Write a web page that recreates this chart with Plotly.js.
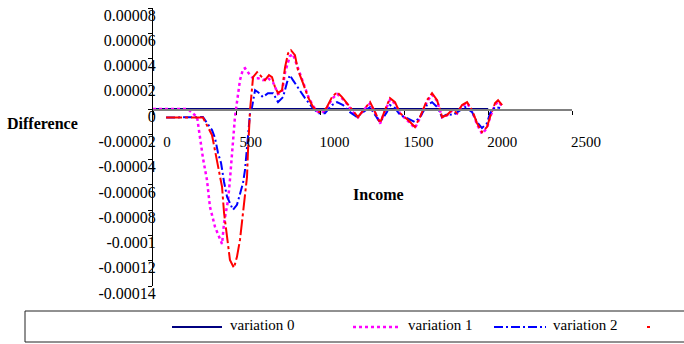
<!DOCTYPE html>
<html>
<head>
<meta charset="utf-8">
<script src="https://cdn.plot.ly/plotly-3.0.1.min.js"></script>
<style>html,body{margin:0;padding:0;background:#fff;}#chart{width:684px;height:344px;}</style>
</head>
<body>
<div id="chart"></div>
<script>
// Values in millionths (1e-6); axis ticks are labelled with the original decimals.
const var0X = [0, 2000];
const var0Y = [0, 0];

const var1X = [0, 209, 263, 286, 298, 322, 340, 370, 412, 424, 436, 448, 459, 477, 489, 501, 519, 537, 549, 579, 597, 627, 656, 686, 716, 746, 770, 788, 817, 835, 865, 895, 925, 955, 985, 1014, 1038, 1068, 1098, 1128, 1158, 1187, 1223, 1265, 1295, 1325, 1355, 1384, 1414, 1444, 1474, 1522, 1563, 1593, 1635, 1665, 1695, 1725, 1754, 1784, 1814, 1844, 1874, 1904, 1933, 1963, 1993, 2011, 2041, 2059, 2083];
const var1Y = [0, 0, -6.3, -26.9, -38.7, -56.1, -77.4, -93.2, -106.7, -90.1, -79.8, -71.9, -56.1, -22.1, -6.3, 5.5, 22.9, 31.6, 32.4, 26.9, 24.5, 24.5, 22.9, 24.5, 21.3, 11.9, 13.4, 29.2, 41.9, 43.5, 32.4, 21.3, 10.3, 2.4, -2.4, -2.4, 1.0, 8.0, 12.0, 8.5, 4.0, -1.5, -6.5, 0.5, 4.5, -2.8, -11.5, -1.5, 7.5, 4.5, -3.5, -9.5, -15.0, -7.0, 6.0, 11.5, 6.5, -6.5, -5.0, -1.2, -3.5, 2.5, 4.8, -1.5, -12.0, -19.5, -15.0, -6.5, 3.5, 6.0, 2.5];

const var2X = [78, 298, 352, 370, 388, 406, 424, 442, 459, 477, 501, 519, 537, 549, 561, 567, 579, 591, 609, 627, 656, 686, 716, 746, 776, 800, 817, 835, 865, 907, 949, 985, 1026, 1068, 1098, 1134, 1175, 1217, 1253, 1295, 1325, 1355, 1396, 1414, 1444, 1474, 1516, 1563, 1593, 1635, 1665, 1695, 1725, 1754, 1790, 1832, 1862, 1904, 1933, 1963, 1993, 2011, 2041, 2071];
const var2Y = [-6.7, -6.3, -16.6, -22.9, -34.8, -42.7, -57.7, -69.5, -74.3, -79.8, -75.8, -66.4, -58.5, -48.2, -32.4, -19.0, -3.2, 1.6, 15.0, 13.4, 9.5, 12.6, 12.6, 5.5, 9.5, 21.3, 26.9, 22.9, 16.6, 8.7, 1.6, -3.2, -3.2, 3.2, 5.5, 3.2, -2.4, -6.3, -2.4, 1.6, -4.7, -10.3, -2.4, 3.2, 0.8, -4.7, -7.1, -10.3, -6.3, 3.2, 5.5, 1.6, -6.3, -4.0, -4.7, -0.8, 1.6, -2.4, -10.3, -15.0, -11.1, -3.2, 1.6, 0.8];

const var3X = [78, 298, 352, 382, 412, 424, 442, 459, 483, 501, 519, 537, 561, 567, 573, 579, 597, 621, 650, 668, 692, 710, 728, 746, 770, 788, 806, 823, 847, 865, 895, 925, 955, 985, 1014, 1038, 1068, 1098, 1128, 1158, 1187, 1223, 1265, 1295, 1325, 1355, 1384, 1414, 1444, 1474, 1522, 1563, 1593, 1635, 1665, 1695, 1725, 1754, 1784, 1814, 1844, 1874, 1904, 1933, 1963, 1993, 2011, 2041, 2059, 2083];
const var3Y = [-6.7, -6.7, -20.5, -40.3, -61.6, -82.2, -103.5, -119.3, -125.6, -116.9, -103.5, -82.2, -53.7, -32.4, -19.0, -0.8, 25.3, 29.2, 25.3, 22.9, 26.9, 25.3, 17.4, 12.6, 15.0, 33.2, 44.2, 46.6, 42.7, 30.8, 20.5, 9.5, 1.6, -2.4, -2.4, 1.6, 9.5, 13.4, 9.5, 4.7, -0.8, -6.3, 0.8, 5.5, -2.4, -11.1, -0.8, 8.7, 5.5, -3.2, -8.7, -14.2, -6.3, 7.1, 12.6, 7.1, -6.3, -4.7, -0.8, -3.2, 3.2, 5.5, -0.8, -11.1, -18.2, -14.2, -6.3, 4.7, 7.1, 3.2];

// the 4th legend label lies outside the visible picture in the reference, so only 3 labels are shown
const seriesNames = ['variation 0', 'variation 1', 'variation 2', 'variation 3'];
const legendLabels = ['variation 0', 'variation 1', 'variation 2'];
const xTickVals = [0, 500, 1000, 1500, 2000, 2500];
const xTickText = ['0', '500', '1000', '1500', '2000', '2500'];
const yTickVals = [80, 60, 40, 20, 0, -20, -40, -60, -80, -100, -120, -140];
const yTickText = ['0.00008', '0.00006', '0.00004', '0.00002', '0', '-0.00002', '-0.00004', '-0.00006', '-0.00008', '-0.0001', '-0.00012', '-0.00014'];
const xTitle = 'Income';
const yTitle = 'Difference';

// layout geometry (pixels)
const W = 684, H = 344, ML = 153, MR = 112, MT = 8, MB = 58;
const PW = W - ML - MR, PH = H - MT - MB;
const pxX = p => (p - ML) / PW;
const pxY = p => (H - MB - p) / PH;
const yRange = [-140, 80];
const FONT = 'Liberation Serif, Times New Roman, serif';

const colors = ['#000080', '#FF00FF', '#0000FF', '#FF0000'];
const dashes = ['solid', '3px,3px', '9px,3px,2px,3px', '16px,3px,3px,3px'];
const widths = [2, 2.5, 2, 2];
const xs = [var0X, var1X, var2X, var3X];
const ys = [var0Y, var1Y, var2Y, var3Y];

const traces = xs.map((x, i) => ({
  type: 'scatter', mode: 'lines', x: x, y: ys[i], name: seriesNames[i],
  line: {color: colors[i], width: widths[i], dash: dashes[i]},
  showlegend: false, hoverinfo: 'skip'
}));

const shapes = [{
  type: 'rect', xref: 'paper', yref: 'paper',
  x0: pxX(25), x1: pxX(740), y0: pxY(342), y1: pxY(311),
  line: {color: '#222', width: 1}, fillcolor: 'rgba(0,0,0,0)'
}];
const legendLines = [[172, 222], [353, 400], [494, 546], [647, 650]];
const legendText = [228, 406, 551];
const annotations = [];
legendLines.forEach((seg, i) => {
  shapes.push({type: 'line', xref: 'paper', yref: 'paper',
    x0: pxX(seg[0]), x1: pxX(seg[1]), y0: pxY(327), y1: pxY(327),
    line: {color: colors[i], width: i === 1 ? 2.5 : 2, dash: i === 3 ? 'solid' : dashes[i]}});
});
legendLabels.forEach((t, i) => {
  annotations.push({xref: 'paper', yref: 'paper', x: pxX(legendText[i]), y: pxY(325),
    text: t, showarrow: false, xanchor: 'left', yanchor: 'middle',
    font: {family: FONT, size: 15, color: '#000'}});
});
annotations.push({xref: 'paper', yref: 'paper', x: pxX(42), y: pxY(124), text: '<b>' + yTitle + '</b>',
  showarrow: false, xanchor: 'center', yanchor: 'middle', font: {family: FONT, size: 16, color: '#000'}});
annotations.push({xref: 'paper', yref: 'paper', x: pxX(378), y: pxY(194), text: '<b>' + xTitle + '</b>',
  showarrow: false, xanchor: 'center', yanchor: 'middle', font: {family: FONT, size: 16, color: '#000'}});

const layout = {
  width: W, height: H,
  margin: {l: ML, r: MR, t: MT, b: MB, pad: 0},
  paper_bgcolor: '#fff', plot_bgcolor: 'rgba(0,0,0,0)',
  showlegend: false,
  xaxis: {
    range: [0, 2500], anchor: 'free', position: (0 - yRange[0]) / (yRange[1] - yRange[0]),
    tickvals: xTickVals, ticktext: xTickText, ticks: 'outside', ticklen: 4, tickcolor: '#000',
    showline: true, linecolor: '#808080', linewidth: 1.5, showgrid: false, zeroline: false,
    tickfont: {family: FONT, size: 15, color: '#000'},
    ticklabelshift: 14, ticklabelstandoff: 14
  },
  yaxis: {
    range: yRange, tickvals: yTickVals, ticktext: yTickText, ticks: 'outside', ticklen: 4, tickcolor: '#000',
    showline: true, linecolor: '#000', linewidth: 1, showgrid: false, zeroline: false,
    tickfont: {family: FONT, size: 16, color: '#000'},
    ticklabelshift: 7, ticklabelstandoff: -11
  },
  shapes: shapes, annotations: annotations
};

Plotly.newPlot('chart', traces, layout, {staticPlot: true, displayModeBar: false});
</script>
</body>
</html>
